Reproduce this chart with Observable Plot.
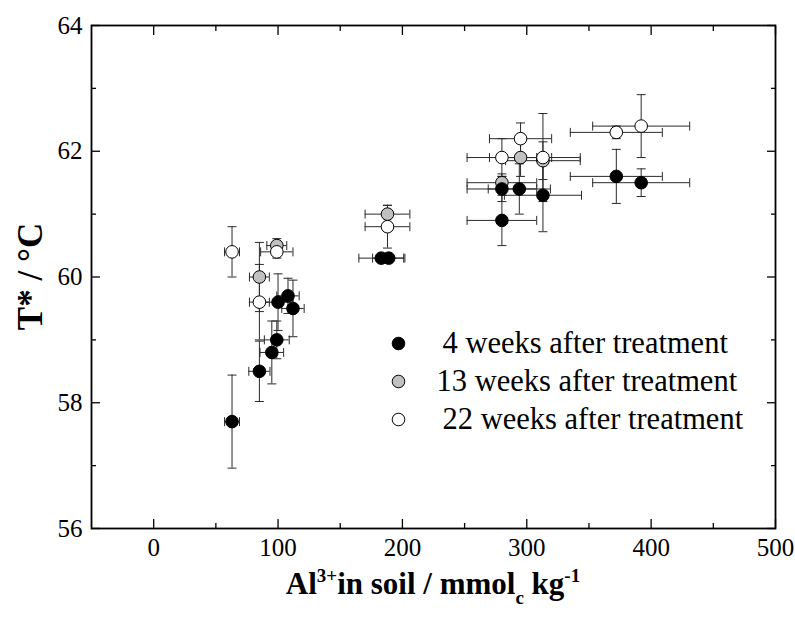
<!DOCTYPE html>
<html>
<head>
<meta charset="utf-8">
<script src="https://cdn.jsdelivr.net/npm/d3@7"></script>
<script src="https://cdn.jsdelivr.net/npm/@observablehq/plot@0.6"></script>
<style>
  body { margin: 0; background: #fff; }
  #chart { width: 795px; height: 619px; }
</style>
</head>
<body>
<div id="chart"></div>
<script>
// Exchangeable Al3+ in soil (mmolc/kg) against T* (°C), mean ± error in both directions

// 4 weeks after treatment (filled black)
const week4Al    = [63, 85, 95, 99, 100, 108, 112, 183, 189, 280, 280, 294, 313, 372, 392];
const week4T     = [57.7, 58.5, 58.8, 59.0, 59.6, 59.7, 59.5, 60.3, 60.3, 60.9, 61.4, 61.4, 61.3, 61.6, 61.5];
const week4AlErr = [6, 8.5, 9.5, 10, 12, 9, 9, 18, 13, 28, 28, 25, 31, 37, 39];
const week4TErr  = [0.74, 0.48, 0.5, 0.3, 0.45, 0.28, 0.45, 0.05, 0.05, 0.4, 0.2, 0.4, 0.58, 0.43, 0.22];

// 13 weeks after treatment (grey)
const week13Al    = [85, 99, 188, 280, 295, 313];
const week13T     = [60.0, 60.5, 61.0, 61.5, 61.9, 61.85];
const week13AlErr = [8, 8, 18, 28, 25, 30];
const week13TErr  = [0.55, 0.11, 0.14, 0.14, 0.3, 0.3];

// 22 weeks after treatment (open)
const week22Al    = [63, 85, 99, 188, 280, 295, 313, 372, 392];
const week22T     = [60.4, 59.6, 60.4, 60.8, 61.9, 62.2, 61.9, 62.3, 62.4];
const week22AlErr = [6, 8, 13, 18, 28, 25, 30, 37, 39];
const week22TErr  = [0.4, 0.6, 0.1, 0.34, 0.3, 0.25, 0.7, 0.1, 0.5];

const seriesNames = ["4 weeks after treatment", "13 weeks after treatment", "22 weeks after treatment"];
const seriesFills = ["#000000", "#c0c0c0", "#ffffff"];

const xMajor = [0, 100, 200, 300, 400, 500];
const xMinor = [50, 150, 250, 350, 450];
const yMajor = [56, 58, 60, 62, 64];
const yMinor = [57, 59, 61, 63];

const serif = "'Liberation Serif', 'Times New Roman', Times, serif";

function rows(al, t, alErr, tErr) {
  return al.map((a, i) => ({al: a, t: t[i], ae: alErr[i], te: tErr[i]}));
}
const week4 = rows(week4Al, week4T, week4AlErr, week4TErr);
const week13 = rows(week13Al, week13T, week13AlErr, week13TErr);
const week22 = rows(week22Al, week22T, week22AlErr, week22TErr);

// short cap segments drawn as custom dot symbols
const capH = {draw(ctx) { ctx.moveTo(-4.5, 0); ctx.lineTo(4.5, 0); }};
const capV = {draw(ctx) { ctx.moveTo(0, -4.5); ctx.lineTo(0, 4.5); }};

const barColor = "#2a2a2a";
function errorBars(data) {
  return [
    Plot.ruleY(data, {y: "t", x1: d => d.al - d.ae, x2: d => d.al + d.ae, stroke: barColor, strokeWidth: 1}),
    Plot.ruleX(data, {x: "al", y1: d => d.t - d.te, y2: d => d.t + d.te, stroke: barColor, strokeWidth: 1}),
    Plot.dot(data, {x: d => d.al - d.ae, y: "t", symbol: capV, r: 4, fill: "none", stroke: barColor, strokeWidth: 1}),
    Plot.dot(data, {x: d => d.al + d.ae, y: "t", symbol: capV, r: 4, fill: "none", stroke: barColor, strokeWidth: 1}),
    Plot.dot(data, {x: "al", y: d => d.t - d.te, symbol: capH, r: 4, fill: "none", stroke: barColor, strokeWidth: 1}),
    Plot.dot(data, {x: "al", y: d => d.t + d.te, symbol: capH, r: 4, fill: "none", stroke: barColor, strokeWidth: 1})
  ];
}
function points(data, fill) {
  return Plot.dot(data, {x: "al", y: "t", r: 6.3, fill, stroke: "#000", strokeWidth: 1});
}

// legend inside the frame
const legendRows = [0, 1, 2];
const legendTextDx = [351, 345, 351];
function legend() {
  return legendRows.flatMap(i => [
    Plot.dot([seriesNames[i]], {frameAnchor: "top-left", dx: 307, dy: 318 + i * 38, r: 6.3,
      fill: seriesFills[i], stroke: "#000", strokeWidth: 1}),
    Plot.text([seriesNames[i]], {frameAnchor: "top-left", dx: legendTextDx[i], dy: 318 + i * 38,
      text: d => d, textAnchor: "start", lineAnchor: "middle", fontSize: 30.5, fill: "#000"})
  ]);
}

const plot = Plot.plot({
  width: 795,
  height: 619,
  marginLeft: 91,
  marginRight: 20,
  marginTop: 25,
  marginBottom: 91,
  x: {domain: [-50, 500]},
  y: {domain: [56, 64]},
  style: {background: "#fff", color: "#000"},
  marks: [
    // inward major / minor ticks on all four sides
    Plot.axisX(xMajor, {anchor: "bottom", tickSize: -9, fill: "none", label: null, strokeWidth: 1.3}),
    Plot.axisX(xMinor, {anchor: "bottom", tickSize: -5, fill: "none", label: null, strokeWidth: 1.3}),
    Plot.axisX(xMajor, {anchor: "top", tickSize: -9, fill: "none", label: null, strokeWidth: 1.3}),
    Plot.axisX(xMinor, {anchor: "top", tickSize: -5, fill: "none", label: null, strokeWidth: 1.3}),
    Plot.axisY(yMajor, {anchor: "left", tickSize: -9, fill: "none", label: null, strokeWidth: 1.3}),
    Plot.axisY(yMinor, {anchor: "left", tickSize: -5, fill: "none", label: null, strokeWidth: 1.3}),
    Plot.axisY(yMajor, {anchor: "right", tickSize: -9, fill: "none", label: null, strokeWidth: 1.3}),
    Plot.axisY(yMinor, {anchor: "right", tickSize: -5, fill: "none", label: null, strokeWidth: 1.3}),
    // tick labels
    Plot.axisX(xMajor, {anchor: "bottom", tickSize: 0, tickPadding: 10, label: null, fontSize: 25,
      tickFormat: d => String(d)}),
    Plot.axisY(yMajor, {anchor: "left", tickSize: 0, tickPadding: 9, label: null, fontSize: 25,
      tickFormat: d => String(d)}),
    Plot.frame({stroke: "#000", strokeWidth: 1.8}),
    ...errorBars(week13),
    ...errorBars(week22),
    ...errorBars(week4),
    points(week13, seriesFills[1]),
    points(week22, seriesFills[2]),
    points(week4, seriesFills[0]),
    ...legend()
  ]
});

document.getElementById("chart").appendChild(plot);

const svg = d3.select(plot);
// every label in the figure is set in a Times-style serif
svg.selectAll("text").style("font-family", serif);

// axis titles with super- and subscripts
const [x0, x1] = plot.scale("x").range;
const [yb, yt] = plot.scale("y").range;

const xt = svg.append("text")
  .attr("x", (x0 + x1) / 2)
  .attr("y", 594)
  .attr("text-anchor", "middle")
  .style("font-family", serif)
  .attr("font-weight", "bold")
  .attr("font-size", 31)
  .attr("fill", "#000");
xt.append("tspan").text("Al");
xt.append("tspan").attr("dy", -12).attr("font-size", 19).text("3+");
xt.append("tspan").attr("dy", 12).text("in soil / mmol");
xt.append("tspan").attr("dy", 10).attr("font-size", 19).text("c");
xt.append("tspan").attr("dy", -10).text(" kg");
xt.append("tspan").attr("dy", -12).attr("font-size", 19).text("-1");

svg.append("text")
  .attr("transform", `translate(42,${(yb + yt) / 2}) rotate(-90)`)
  .attr("text-anchor", "middle")
  .style("font-family", serif)
  .attr("font-weight", "bold")
  .attr("font-size", 35)
  .attr("fill", "#000")
  .text("T* / °C");
</script>
</body>
</html>
